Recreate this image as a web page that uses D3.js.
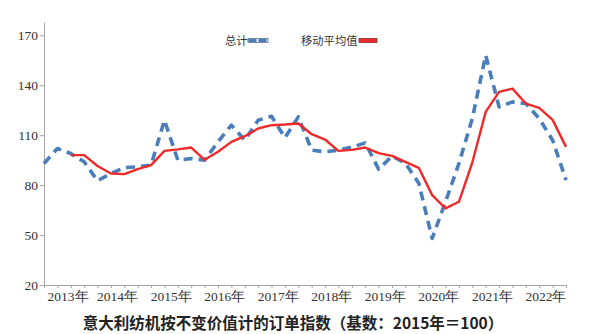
<!DOCTYPE html>
<html>
<head>
<meta charset="utf-8">
<script src="https://cdn.jsdelivr.net/npm/d3@7"></script>
<style>
  html, body { margin: 0; padding: 0; background: #fff; }
  svg { display: block; }
</style>
</head>
<body>
<svg id="chart" width="601" height="334"></svg>
<script>
// Quarterly order index, 2013 Q1 – 2022 Q4
const years = [2013, 2014, 2015, 2016, 2017, 2018, 2019, 2020, 2021, 2022];
const quarters = years.flatMap(y => [1, 2, 3, 4].map(q => `${y}Q${q}`));

// 总计 (total)
const totalValues = [
  93, 102, 99, 94, 82.6, 87, 90.5, 91, 92, 119,
  95, 96, 95, 106, 116, 107, 119, 121.4, 108.5, 121,
  101, 100, 101, 102.8, 105.4, 89.6, 97.4, 93.2, 81.2, 48,
  70, 93, 120, 158, 127, 130, 129, 120, 107, 83
];

// 移动平均值 (moving average), starts at the third quarter
const movingAvgValues = [
  null, null, 98, 98, 91.5, 87, 86.6, 89.6, 92, 100.6,
  101.5, 102.6, 95.2, 100, 106, 109.4, 114, 116, 116.4, 117,
  110.6, 107.4, 100.6, 101.2, 102.6, 99.2, 97.6, 94, 90.4, 74,
  66, 70, 93.6, 124, 136, 138, 129, 126.4, 119.2, 103
];

const yTicks = [20, 50, 80, 110, 140, 170];
const legendLabels = ["总计", "移动平均值"];
const title = "意大利纺机按不变价值计的订单指数（基数：2015年＝100）";

const svg = d3.select("#chart");
const plotLeft = 44, plotRight = 566, plotTop = 22, plotBottom = 285;

const x = d3.scaleLinear().domain([0, quarters.length - 1]).range([plotLeft, plotRight]);
const y = d3.scaleLinear().domain([20, 178]).range([plotBottom, plotTop]);

const axisColor = "#a6a6a6";
const serif = "'Liberation Serif', 'Times New Roman', serif";
const sans = "'Noto Sans CJK SC', 'Noto Sans', sans-serif";

// Y axis
const yAxis = svg.append("g")
  .attr("transform", `translate(${plotLeft},0)`)
  .call(d3.axisLeft(y).tickValues(yTicks).tickSize(4).tickSizeOuter(0).tickPadding(2));
yAxis.select(".domain").attr("stroke", axisColor);
yAxis.selectAll(".tick line").attr("stroke", axisColor);
yAxis.selectAll(".tick text")
  .attr("font-family", serif).attr("font-size", 13.5).attr("fill", "#333");

// X axis: one small tick per quarter
const xAxis = svg.append("g")
  .attr("transform", `translate(0,${plotBottom})`)
  .call(d3.axisBottom(x).tickValues(d3.range(quarters.length)).tickFormat("").tickSize(3).tickSizeOuter(0));
xAxis.select(".domain").attr("stroke", axisColor);
xAxis.selectAll(".tick line").attr("stroke", axisColor);

// Year labels centred under their four quarters
svg.append("g").selectAll("text")
  .data(years)
  .join("text")
  .attr("x", (d, i) => Math.max(x(i * 4 + 1.5), 68))
  .attr("y", 301)
  .attr("text-anchor", "middle")
  .attr("font-family", serif)
  .attr("font-size", 13.5)
  .attr("fill", "#333")
  .text(d => `${d}年`);

const blue = "#4a7ebb";
const red = "#ee2a2a";

const line = d3.line()
  .defined(d => d != null)
  .x((d, i) => x(i))
  .y(d => y(d));

// Total (dashed)
svg.append("path")
  .datum(totalValues)
  .attr("d", line)
  .attr("fill", "none")
  .attr("stroke", blue)
  .attr("stroke-width", 3.6)
  .attr("stroke-dasharray", "9,6")
  .attr("stroke-linejoin", "round");

// Moving average (solid)
svg.append("path")
  .datum(movingAvgValues)
  .attr("d", line)
  .attr("fill", "none")
  .attr("stroke", red)
  .attr("stroke-width", 2.4)
  .attr("stroke-linejoin", "round");

// Legend
const legend = svg.append("g").attr("font-family", sans).attr("font-size", 11.3).attr("fill", "#333");
legend.append("text").attr("x", 225).attr("y", 45).text(legendLabels[0]);
legend.append("rect").attr("x", 248).attr("y", 38.5).attr("width", 20).attr("height", 4)
  .attr("fill", "#eef2f8").attr("stroke", "#5a6f8c").attr("stroke-width", 0.8);
legend.append("line").attr("x1", 248.5).attr("x2", 267.5).attr("y1", 40.5).attr("y2", 40.5)
  .attr("stroke", blue).attr("stroke-width", 3).attr("stroke-dasharray", "8,2");
legend.append("text").attr("x", 301).attr("y", 45).text(legendLabels[1]);
legend.append("rect").attr("x", 359).attr("y", 38.5).attr("width", 18).attr("height", 4)
  .attr("fill", red).attr("stroke", "#8a3030").attr("stroke-width", 0.8);

// Title
svg.append("text")
  .attr("x", 293)
  .attr("y", 329)
  .attr("text-anchor", "middle")
  .attr("font-family", sans)
  .attr("font-size", 15.5)
  .attr("font-weight", 700)
  .attr("fill", "#222")
  .text(title);
</script>
</body>
</html>
